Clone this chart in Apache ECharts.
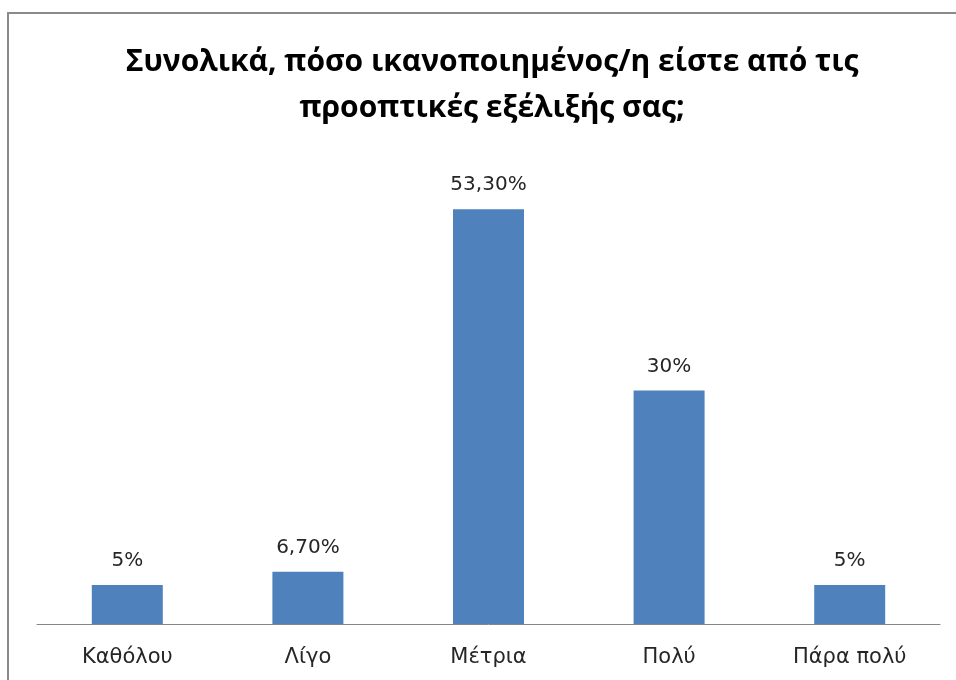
<!DOCTYPE html>
<html>
<head>
<meta charset="utf-8">
<script src="https://cdn.jsdelivr.net/npm/echarts@6/dist/echarts.min.js"></script>
<style>
  html, body { margin: 0; padding: 0; background: #fff; }
  #chart { width: 956px; height: 680px; }
</style>
</head>
<body>
<div id="chart"></div>
<script>
// Survey answers and the share of respondents (percent) for each
const categories = ['Καθόλου', 'Λίγο', 'Μέτρια', 'Πολύ', 'Πάρα πολύ'];
const shares = [5, 6.7, 53.3, 30, 5];
const titleLines = ['Συνολικά, πόσο ικανοποιημένος/η είστε από τις', 'προοπτικές εξέλιξής σας;'];

// Whole numbers print plainly, others with two decimals and a decimal comma
function pct(v) {
  return Number.isInteger(v) ? v + '%' : v.toFixed(2).replace('.', ',') + '%';
}

const chart = echarts.init(document.getElementById('chart'));
chart.setOption({
  animation: false,
  backgroundColor: '#ffffff',
  title: {
    text: titleLines.join('\n'),
    left: 487,
    top: 34,
    textAlign: 'center',
    textStyle: {
      fontFamily: 'Open Sans',
      fontWeight: 'bold',
      fontSize: 30,
      lineHeight: 46,
      color: '#000000'
    }
  },
  graphic: [{
    type: 'rect',
    shape: { x: 8, y: 13, width: 980, height: 700 },
    style: { fill: 'none', stroke: '#8a8a8a', lineWidth: 2 },
    silent: true
  }],
  grid: { left: 37, right: 16, top: 157, bottom: 56 },
  xAxis: {
    type: 'category',
    data: categories,
    axisLine: { lineStyle: { color: '#868686', width: 1 } },
    axisTick: { show: false },
    axisLabel: {
      margin: 23,
      fontFamily: 'DejaVu Sans',
      fontSize: 21,
      color: '#262626'
    }
  },
  yAxis: {
    type: 'value',
    min: 0,
    max: 60,
    show: false,
    splitLine: { show: false }
  },
  series: [{
    type: 'bar',
    data: shares,
    barWidth: 71,
    itemStyle: { color: '#4F81BD' },
    label: {
      show: true,
      position: 'top',
      distance: 14,
      formatter: p => pct(p.value),
      fontFamily: 'DejaVu Sans',
      fontSize: 20,
      color: '#262626'
    }
  }]
});
</script>
</body>
</html>
